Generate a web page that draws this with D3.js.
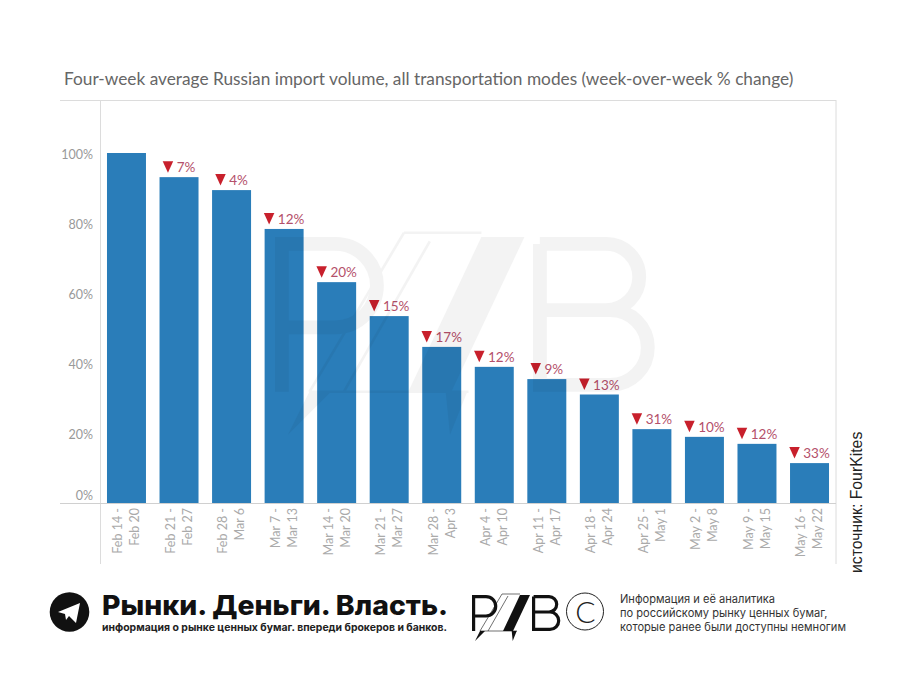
<!DOCTYPE html>
<html lang="ru">
<head>
  <meta charset="UTF-8">
  <title>Russian import volume</title>
  <script src="https://d3js.org/d3.v7.min.js"></script>
  <style>
    body { margin: 0; background: #fff; }
    text { font-family: Lato, sans-serif; }
  </style>
</head>
<body>
  <svg id="chart" width="900" height="678"></svg>
  <script>
    const weekStart = ["Feb 14 -", "Feb 21 -", "Feb 28 -", "Mar 7 -", "Mar 14 -", "Mar 21 -", "Mar 28 -", "Apr 4 -", "Apr 11 -", "Apr 18 -", "Apr 25 -", "May 2 -", "May 9 -", "May 16 -"]
    const weekEnd = ["Feb 20", "Feb 27", "Mar 6", "Mar 13", "Mar 20", "Mar 27", "Apr 3", "Apr 10", "Apr 17", "Apr 24", "May 1", "May 8", "May 15", "May 22"]
    const volume = [100, 93.1, 89.4, 78.3, 63.1, 53.4, 44.6, 38.9, 35.4, 31, 21.1, 18.9, 16.9, 11.4]
    const change = [null, 7, 4, 12, 20, 15, 17, 12, 9, 13, 31, 10, 12, 33]
    const yTicks = [0, 20, 40, 60, 80, 100]

    const infoLines = ["Информация и её аналитика", "по российскому рынку ценных бумаг,", "которые ранее были доступны немногим"]

    const svg = d3.select("#chart")

    const x = d3.scaleBand()
      .domain(weekEnd)
      .range([100, 836])
      .paddingInner(0.258)
      .paddingOuter(0.133)

    const y = d3.scaleLinear()
      .domain([0, 115])
      .range([503, 100.5])

    // frame
    const frame = svg.append("g").attr("stroke", "#dcdcdc").attr("stroke-width", 1)
    frame.append("line").attr("x1", 60).attr("x2", 836).attr("y1", 100.5).attr("y2", 100.5)
    frame.append("line").attr("x1", 100.5).attr("x2", 100.5).attr("y1", 100).attr("y2", 564)
    frame.append("line").attr("x1", 836).attr("x2", 836).attr("y1", 100).attr("y2", 564)
    frame.append("line").attr("x1", 60).attr("x2", 836).attr("y1", 503.5).attr("y2", 503.5).attr("stroke", "#d0d0d0")

    svg.append("text")
      .attr("x", 64)
      .attr("y", 85)
      .attr("fill", "#666")
      .style("font-size", "17.28px")
      .text("Four-week average Russian import volume, all transportation modes (week-over-week % change)")

    svg.append("g")
      .selectAll("rect")
      .data(volume)
      .join("rect")
      .attr("x", (d, i) => x(weekEnd[i]))
      .attr("y", d => y(d))
      .attr("width", x.bandwidth())
      .attr("height", d => y(0) - y(d))
      .attr("fill", "#2a7db9")

    // y axis, the 0% label sits above the baseline
    const yAxis = svg.append("g")
      .attr("transform", "translate(100,0)")
      .call(d3.axisLeft(y).tickValues(yTicks).tickFormat(d => d + "%").tickSize(0).tickPadding(7))
    yAxis.select(".domain").remove()
    yAxis.selectAll("text")
      .attr("fill", "#999")
      .style("font-size", "12.5px")
      .attr("dy", d => d === 0 ? "-0.27em" : "0.4em")

    // x axis, two rotated lines per week
    const xAxis = svg.append("g")
      .attr("transform", "translate(0,503)")
      .call(d3.axisBottom(x).tickSize(0).tickFormat(""))
    xAxis.select(".domain").remove()
    xAxis.selectAll(".tick").each(function(d, i) {
      const tick = d3.select(this)
      tick.selectAll("text").remove()
      ;[weekStart[i], weekEnd[i]].forEach((label, k) => {
        tick.append("text")
          .attr("transform", "translate(" + (k === 0 ? -8.5 : 8.5) + ",5) rotate(-90)")
          .attr("dy", "0.35em")
          .attr("text-anchor", "end")
          .attr("fill", "#aaa")
          .style("font-size", "12.5px")
          .text(label)
      })
    })

    // change labels: triangle + percent, centred over the bar
    const labels = svg.append("g")
    change.forEach((d, i) => {
      if (d === null) return
      const g = labels.append("g")
      const txt = g.append("text")
        .attr("fill", "#b4506a")
        .style("font-size", "13.5px")
        .text(d + "%")
      const w = txt.node().getComputedTextLength()
      const total = 10.5 + 3.5 + w
      const left = x(weekEnd[i]) + x.bandwidth() / 2 - total / 2
      const top = y(volume[i]) - 16
      txt.attr("x", left + 14).attr("y", top + 11)
      g.append("path")
        .attr("d", "M" + left + "," + top + "h10.5l-5.25," + 11.5 + "z")
        .attr("fill", "#c8202c")
    })

    // PZB logo, drawn in a 88x36 box, tails hang below it
    function drawLogo(g, stroke) {
      g.append("path")
        .attr("d", "M1.6,36V1.6H14A9.7,9.7 0 0 1 14,21H1.6")
        .attr("fill", "none").attr("stroke", stroke).attr("stroke-width", 3.2)
      g.append("path")
        .attr("d", "M61.6,1.6V34.4H78A8.7,8.7 0 0 0 78,17H61.6M61.6,1.6H77A7.7,7.7 0 0 1 77,17")
        .attr("fill", "none").attr("stroke", stroke).attr("stroke-width", 3.2)
      g.append("path")
        .attr("d", "M48,0H58L41,36H31Z")
        .attr("fill", stroke)
      g.append("path")
        .attr("d", "M30,-1H48M30,-1L8,36M36,1L16,36M8,36H45")
        .attr("fill", "none").attr("stroke", stroke).attr("stroke-width", 0.6)
      g.append("path")
        .attr("d", "M13,36L3,46L8,36ZM39.7,36H44.7L40.7,46Z")
        .attr("fill", stroke)
    }

    // watermark over the chart
    drawLogo(svg.append("g")
      .attr("transform", "translate(275,237) scale(4.3)")
      .attr("opacity", 0.045), "#000")

    // footer
    const footer = svg.append("g")
    footer.append("circle").attr("cx", 69.5).attr("cy", 612).attr("r", 19.8).attr("fill", "#111")
    footer.append("path")
      .attr("d", "M58,612L80,603L76,623L69,616L66,620L65,614Z")
      .attr("fill", "#fff")

    footer.append("text")
      .attr("x", 102)
      .attr("y", 615)
      .attr("fill", "#111")
      .style("font-family", "Inter, sans-serif")
      .style("font-weight", 800)
      .style("font-size", "27.5px")
      .attr("textLength", 346)
      .attr("lengthAdjust", "spacingAndGlyphs")
      .text("Рынки. Деньги. Власть.")

    footer.append("text")
      .attr("x", 102)
      .attr("y", 630.5)
      .attr("fill", "#222")
      .style("font-family", "Inter, sans-serif")
      .style("font-weight", 700)
      .style("font-size", "10px")
      .attr("textLength", 345)
      .attr("lengthAdjust", "spacingAndGlyphs")
      .text("информация о рынке ценных бумаг. впереди брокеров и банков.")

    drawLogo(footer.append("g").attr("transform", "translate(472,595)"), "#111")

    footer.append("circle").attr("cx", 585).attr("cy", 611.5).attr("r", 18.5)
      .attr("fill", "none").attr("stroke", "#222").attr("stroke-width", 1)
    footer.append("text")
      .attr("x", 585.5)
      .attr("y", 622.5)
      .attr("text-anchor", "middle")
      .attr("fill", "#222")
      .style("font-weight", 300)
      .style("font-size", "30px")
      .text("C")

    footer.selectAll(".info")
      .data(infoLines)
      .join("text")
      .attr("class", "info")
      .attr("x", 620)
      .attr("y", (d, i) => 602.5 + i * 14)
      .attr("fill", "#333")
      .style("font-family", "Inter, sans-serif")
      .style("font-size", "11.1px")
      .text(d => d)

    svg.append("text")
      .attr("transform", "translate(862,573) rotate(-90)")
      .attr("fill", "#222")
      .style("font-family", "'Liberation Sans', sans-serif")
      .style("font-size", "15.8px")
      .text("источник: FourKites")
  </script>
</body>
</html>
